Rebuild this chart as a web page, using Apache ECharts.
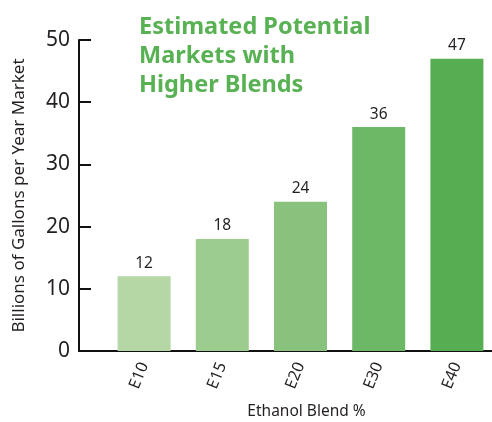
<!DOCTYPE html>
<html>
<head>
<meta charset="utf-8">
<script src="https://cdn.jsdelivr.net/npm/echarts@6/dist/echarts.min.js"></script>
<style>html,body{margin:0;padding:0;background:#fff;}#c{width:492px;height:422px;}</style>
</head>
<body>
<div id="c"></div>
<script>
var categories = ['E10', 'E15', 'E20', 'E30', 'E40'];
var values = [12, 18, 24, 36, 47];
var barColors = ['#b5d6a5', '#9ccd8f', '#88c27c', '#6db866', '#57ae52'];
var yTicks = [0, 10, 20, 30, 40, 50];
var titleText = 'Estimated Potential\nMarkets with\nHigher Blends';
var yName = 'Billions of Gallons per Year Market';
var xName = 'Ethanol Blend %';

var chart = echarts.init(document.getElementById('c'));
var font = 'Noto Sans';
chart.setOption({
  backgroundColor: '#fff',
  animation: false,
  title: {
    text: titleText,
    left: 134, top: 8,
    textStyle: { color: '#58b153', fontSize: 23.5, fontWeight: 'bold', fontFamily: font, lineHeight: 29 }
  },
  grid: [
    { left: 79, right: 0, top: 40, bottom: 71, outerBoundsMode: 'none', containLabel: false },
    { left: 105, right: -4, top: 40, bottom: 71, outerBoundsMode: 'none', containLabel: false }
  ],
  xAxis: [
    { type: 'value', gridIndex: 0, min: 0, max: 1,
      axisLine: { show: true, lineStyle: { color: '#111', width: 2 } },
      axisTick: { show: false }, axisLabel: { show: false }, splitLine: { show: false } },
    { type: 'category', gridIndex: 1, data: categories,
      axisLine: { show: false }, axisTick: { show: false },
      axisLabel: { rotate: 68, color: '#231f20', fontSize: 16, fontFamily: font, margin: 12 },
      name: xName, nameLocation: 'middle', nameGap: 53, nameMoveOverlap: false,
      nameTextStyle: { color: '#231f20', fontSize: 15.5, fontFamily: font, padding: [0, 0, 0, 12] } }
  ],
  yAxis: [
    { type: 'value', gridIndex: 0, min: yTicks[0], max: yTicks[yTicks.length - 1], interval: 10,
      axisLine: { show: true, lineStyle: { color: '#111', width: 2 } },
      axisTick: { show: true, inside: true, length: 12, lineStyle: { color: '#111', width: 2 } },
      axisLabel: { color: '#231f20', fontSize: 21, fontFamily: font, margin: 9 },
      splitLine: { show: false },
      name: yName, nameLocation: 'middle', nameGap: 51, nameMoveOverlap: false,
      nameTextStyle: { color: '#231f20', fontSize: 17, fontFamily: font } },
    { type: 'value', gridIndex: 1, min: yTicks[0], max: yTicks[yTicks.length - 1], interval: 10,
      show: false }
  ],
  series: [{
    type: 'bar',
    xAxisIndex: 1, yAxisIndex: 1,
    barWidth: 53,
    data: values.map(function (v, i) { return { value: v, itemStyle: { color: barColors[i] } }; }),
    label: { show: true, position: 'top', distance: 5, color: '#231f20', fontSize: 15.5, fontFamily: font }
  }]
});
</script>
</body>
</html>
